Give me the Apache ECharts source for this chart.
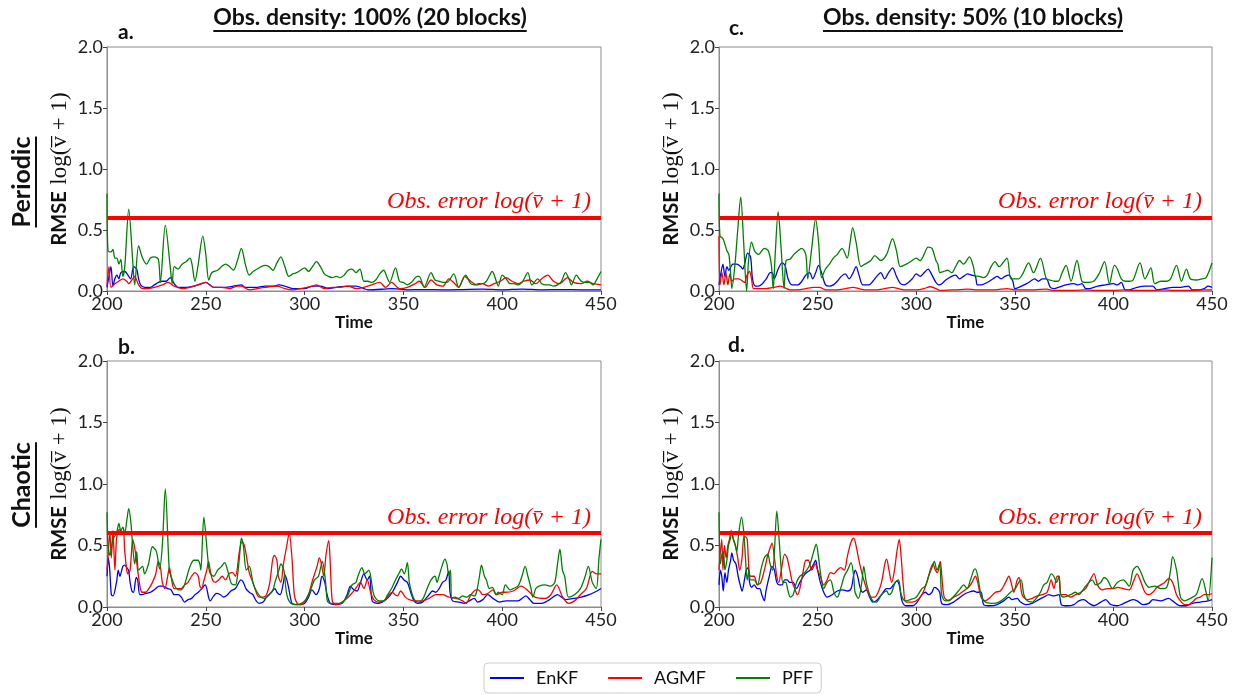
<!DOCTYPE html>
<html><head><meta charset="utf-8">
<script src="https://cdn.jsdelivr.net/npm/echarts@6/dist/echarts.min.js"></script>
<style>html,body{margin:0;padding:0;background:#fff}#c{width:1235px;height:695px}</style>
</head><body><div id="c"></div>
<script>
// ---- data (time, RMSE) ----
const seriesNames = ['EnKF','AGMF','PFF'];
const xTicks = [200,250,300,350,400,450];
const yTicks = [0.0,0.5,1.0,1.5,2.0];
const obsError = 0.6;
const colTitles = ['Obs. density: 100% (20 blocks)','Obs. density: 50% (10 blocks)'];
const rowTitles = ['Periodic','Chaotic'];
const panelLetters = ['a.','b.','c.','d.'];

const aEnKF = [[200,0.03],[201,0.12],[202,0.2],[203,0.04],[204,0.1],[205,0.13],[206,0.1],[207,0.15],[209,0.16],[211,0.12],[212,0.1],[213.5,0.2],[215,0.18],[216,0.1],[217,0.05],[219,0.03],[222,0.03],[224,0.05],[226,0.07],[228,0.08],[230,0.08],[232,0.11],[234,0.06],[236,0.03],[240,0.03],[244,0.04],[246,0.05],[248,0.06],[250,0.07],[252,0.05],[254,0.03],[260,0.03],[264,0.04],[268,0.05],[270,0.03],[276,0.03],[280,0.04],[284,0.04],[287,0.05],[290,0.04],[294,0.02],[300,0.02],[304,0.04],[308,0.04],[312,0.02],[316,0.03],[322,0.04],[326,0.04],[330,0.02],[332,0.01],[340,0.015],[344,0.02],[348,0.015],[352,0.01],[360,0.012],[370,0.01],[380,0.012],[390,0.015],[400,0.01],[410,0.015],[420,0.01],[430,0.012],[440,0.01],[450,0.01]];
const aAGMF = [[200,0.04],[201,0.2],[202,0.03],[204,0.06],[206,0.08],[208,0.1],[210,0.08],[211,0.06],[213,0.1],[214,0.12],[216,0.05],[218,0.02],[220,0.02],[224,0.03],[228,0.05],[231,0.07],[234,0.04],[238,0.02],[242,0.03],[246,0.05],[250,0.07],[254,0.03],[258,0.03],[262,0.02],[266,0.04],[268,0.04],[272,0.01],[276,0.02],[280,0.03],[286,0.04],[290,0.02],[294,0.01],[298,0.02],[304,0.04],[306,0.05],[310,0.02],[314,0.03],[318,0.03],[322,0.04],[326,0.02],[330,0.03],[334,0.05],[338,0.07],[341,0.03],[344,0.07],[348,0.02],[352,0.03],[356,0.06],[358,0.08],[361,0.03],[364,0.09],[367,0.05],[370,0.04],[373,0.1],[376,0.06],[378,0.03],[381,0.12],[384,0.08],[387,0.05],[390,0.06],[393,0.04],[396,0.06],[399,0.08],[402,0.11],[405,0.08],[408,0.06],[411,0.08],[414,0.09],[417,0.06],[420,0.1],[423,0.13],[426,0.08],[429,0.06],[433,0.11],[436,0.07],[440,0.06],[443,0.08],[446,0.06],[450,0.05]];
const aPFF = [[200,0.8],[200.5,0.33],[202,0.32],[203,0.34],[204,0.27],[205,0.27],[206,0.22],[207,0.26],[208,0.12],[209,0.2],[211,0.67],[213,0.25],[214,0.05],[216,0.37],[218,0.27],[220,0.22],[222,0.27],[224,0.28],[226,0.26],[227,0.07],[229.5,0.54],[232,0.2],[233,0.06],[234,0.2],[236,0.18],[238,0.22],[240,0.24],[242,0.27],[243,0.22],[244.5,0.08],[246,0.2],[248.5,0.45],[250,0.3],[251.5,0.09],[253,0.15],[256,0.17],[258,0.2],[260,0.22],[262,0.2],[264,0.17],[266,0.25],[268,0.35],[270,0.22],[272,0.13],[274,0.16],[276,0.18],[278,0.2],[280,0.21],[282,0.2],[284,0.17],[286,0.23],[288,0.28],[290,0.2],[292,0.12],[294,0.14],[296,0.15],[298,0.17],[300,0.19],[302,0.16],[304,0.2],[306,0.24],[308,0.2],[310,0.14],[312,0.12],[314,0.11],[316,0.12],[318,0.11],[320,0.13],[322,0.17],[324,0.18],[326,0.15],[328,0.18],[330,0.08],[332,0.08],[334,0.07],[336,0.09],[338,0.14],[340,0.17],[342,0.1],[343,0.07],[346,0.19],[348,0.08],[350,0.07],[352,0.05],[354,0.07],[357,0.12],[358,0.12],[360.5,0.03],[364,0.15],[366,0.09],[368,0.08],[370,0.07],[372,0.07],[375.5,0.14],[378,0.03],[381.5,0.13],[384,0.06],[386,0.05],[388,0.06],[390,0.06],[392,0.08],[395,0.16],[397,0.08],[398,0.04],[400,0.13],[402,0.1],[404,0.06],[406,0.06],[408,0.05],[410,0.07],[413,0.15],[415,0.05],[418,0.1],[420,0.06],[422,0.05],[424,0.05],[426,0.04],[428,0.05],[430,0.08],[432,0.15],[434,0.09],[435,0.05],[437.5,0.13],[440,0.08],[442,0.07],[444,0.07],[446,0.05],[448,0.1],[450,0.16]];

const bEnKF = [[200,0.25],[200.7,0.4],[201.4,0.3],[202.2,0.1],[203,0.09],[204.8,0.2],[205.7,0.3],[206.5,0.25],[208,0.33],[209,0.34],[210,0.32],[210.9,0.3],[211.7,0.2],[212.6,0.13],[213.4,0.12],[214.8,0.24],[215.5,0.22],[216.6,0.1],[217.8,0.1],[219.5,0.11],[222,0.12],[224.7,0.15],[226.4,0.17],[228,0.17],[230.7,0.15],[232.4,0.14],[234,0.1],[236,0.1],[237.6,0.08],[239.3,0.04],[241,0.06],[242.8,0.07],[244.5,0.1],[246.2,0.12],[248,0.15],[249.7,0.18],[250.5,0.15],[251.4,0.08],[252.2,0.05],[254,0.09],[255.5,0.11],[257.4,0.1],[259,0.08],[261,0.1],[262.7,0.13],[265,0.15],[267.8,0.22],[269,0.2],[270.3,0.15],[272,0.12],[273.8,0.1],[275.5,0.05],[277,0.03],[279,0.04],[280.7,0.08],[283.3,0.12],[285,0.15],[286,0.12],[287.6,0.1],[289.3,0.2],[290,0.26],[291,0.22],[292,0.15],[293.6,0.03],[295.3,0.02],[298,0.02],[300,0.03],[302,0.08],[303.7,0.14],[305.8,0.1],[307.5,0.15],[308.8,0.25],[310.2,0.2],[311.4,0.1],[313,0.03],[315.6,0.02],[319,0.03],[321.5,0.1],[323.2,0.17],[324.9,0.14],[326.6,0.13],[328.3,0.2],[330,0.27],[331.7,0.22],[332.9,0.25],[334.2,0.05],[336.8,0.03],[339.3,0.04],[341.9,0.07],[344.4,0.12],[347,0.2],[348.6,0.25],[350.3,0.22],[352,0.2],[353.7,0.12],[355.4,0.05],[357.1,0.03],[359.7,0.04],[361.4,0.07],[363,0.1],[364.7,0.13],[366.4,0.12],[368.1,0.15],[369.8,0.2],[371.5,0.22],[372.9,0.29],[373.6,0.12],[374.9,0.05],[378.3,0.04],[380.8,0.03],[383.4,0.05],[385.9,0.07],[387.6,0.04],[390.2,0.06],[392.7,0.1],[395.3,0.07],[398.6,0.04],[402,0.05],[404,0.05],[408,0.05],[412,0.09],[414,0.06],[416,0.03],[420,0.03],[424,0.06],[428,0.1],[430,0.08],[432,0.06],[436,0.07],[440,0.08],[444,0.1],[448,0.13],[450,0.15]];
const bAGMF = [[200,0.3],[200.7,0.45],[201.4,0.61],[202.2,0.4],[203,0.62],[204,0.3],[204.8,0.55],[205.7,0.62],[206.5,0.63],[207.4,0.6],[208.3,0.62],[209,0.45],[210,0.3],[210.5,0.27],[211.7,0.3],[213,0.55],[213.8,0.5],[214.8,0.4],[215.5,0.3],[216.9,0.15],[217.8,0.12],[219.5,0.12],[221.2,0.15],[223,0.2],[224.7,0.27],[225.9,0.37],[227,0.33],[228,0.2],[229.3,0.15],[230.7,0.25],[231.6,0.32],[232.4,0.25],[234,0.15],[236,0.15],[237.6,0.15],[239.3,0.18],[241,0.2],[242.8,0.25],[244.5,0.28],[246.2,0.25],[247,0.17],[248,0.15],[248.8,0.2],[250.5,0.3],[251.4,0.37],[252.2,0.3],[253.4,0.22],[254.8,0.2],[256.5,0.22],[258.3,0.25],[260,0.22],[261.7,0.27],[263.5,0.28],[265,0.25],[267,0.45],[268.3,0.53],[269.5,0.5],[270.7,0.4],[272,0.28],[273.8,0.2],[275.5,0.12],[277,0.08],[279,0.08],[280.7,0.1],[282.4,0.2],[283.8,0.38],[284.7,0.42],[286,0.38],[286.7,0.25],[288,0.2],[289.3,0.35],[291,0.5],[292.2,0.6],[293.6,0.4],[294.8,0.1],[296.2,0.03],[298,0.02],[300,0.04],[302,0.1],[303.7,0.2],[306.3,0.33],[307.5,0.4],[308.5,0.35],[309.7,0.25],[310.8,0.42],[312.2,0.54],[313,0.35],[314,0.05],[315.6,0.02],[318,0.03],[320.7,0.06],[323.2,0.1],[325.8,0.15],[328.3,0.2],[330,0.15],[331.7,0.22],[333.4,0.12],[335,0.06],[337.6,0.04],[340.2,0.05],[342.7,0.1],[344.4,0.12],[345.8,0.1],[347,0.09],[348.6,0.13],[351,0.08],[352.9,0.06],[356.3,0.05],[359.7,0.05],[363,0.07],[366.4,0.1],[369.8,0.1],[373.2,0.08],[376.6,0.07],[380,0.05],[381.7,0.03],[384.2,0.1],[386.8,0.14],[388,0.14],[390.2,0.1],[392.7,0.11],[395.3,0.14],[397,0.1],[400.3,0.12],[401.6,0.12],[405.6,0.13],[409.6,0.17],[413.2,0.13],[416.6,0.08],[421.6,0.07],[424.6,0.1],[427.6,0.18],[430.6,0.08],[433.6,0.03],[436.6,0.05],[439.6,0.1],[442.6,0.15],[445.6,0.29],[447.6,0.27],[450,0.27]];
const bPFF = [[200,0.77],[200.5,0.5],[201.5,0.42],[203,0.55],[204.8,0.6],[206,0.68],[207,0.62],[208,0.65],[209,0.6],[210,0.7],[211,0.8],[212,0.7],[213,0.5],[214,0.35],[215,0.45],[216,0.3],[218,0.33],[219,0.27],[221,0.35],[223,0.49],[225,0.45],[226.6,0.31],[228,0.5],[229.5,0.96],[231.5,0.3],[232.4,0.25],[234,0.18],[236,0.14],[237.5,0.14],[239,0.17],[240.5,0.25],[242,0.33],[244,0.38],[246,0.38],[247,0.35],[247.5,0.3],[249,0.73],[251,0.4],[252,0.28],[254,0.25],[256,0.3],[258,0.33],[259.5,0.36],[261,0.3],[263,0.19],[265,0.18],[266,0.25],[267,0.4],[268,0.56],[269,0.5],[270.5,0.3],[272,0.33],[274,0.19],[276,0.12],[278,0.08],[280,0.07],[282,0.1],[284,0.14],[285,0.2],[287,0.3],[288,0.35],[289.5,0.3],[291,0.1],[293,0.03],[296,0.02],[300,0.05],[303,0.14],[305,0.22],[307,0.25],[309,0.37],[310.5,0.22],[311.5,0.05],[313,0.03],[318,0.03],[320,0.05],[322,0.1],[324,0.18],[326,0.2],[327,0.25],[329,0.32],[330.5,0.27],[332.5,0.3],[335,0.1],[337.6,0.05],[340,0.05],[342,0.1],[344,0.15],[346,0.22],[348,0.28],[349,0.31],[350.5,0.27],[352,0.36],[353,0.2],[354.5,0.1],[356,0.05],[358,0.04],[360,0.07],[362,0.15],[364,0.22],[366,0.25],[367,0.2],[368,0.25],[369.5,0.33],[371,0.39],[372,0.35],[373,0.26],[373.8,0.3],[374.5,0.07],[376,0.08],[378,0.07],[380,0.09],[382,0.08],[384,0.1],[386,0.09],[387,0.12],[388.5,0.25],[389.5,0.34],[391,0.25],[392,0.22],[393.5,0.15],[395,0.16],[397,0.1],[398,0.12],[400,0.1],[401.6,0.18],[404,0.14],[405.6,0.15],[408,0.17],[410,0.25],[411.6,0.33],[413,0.25],[414.6,0.15],[415.5,0.08],[417,0.15],[418.6,0.17],[421.6,0.18],[424.6,0.17],[426.6,0.2],[428,0.35],[429.2,0.47],[430.5,0.3],[431.6,0.25],[433.6,0.08],[436.6,0.1],[439.6,0.15],[442,0.25],[443.6,0.33],[445.6,0.2],[447.6,0.15],[449,0.4],[450,0.55]];

const cEnKF = [[200,0.05],[201,0.15],[202,0.22],[203,0.12],[204,0.2],[205,0.17],[207,0.22],[209,0.22],[211,0.2],[212,0.18],[213,0.22],[214.5,0.31],[216,0.28],[217,0.1],[218.5,0.04],[220,0.04],[222,0.06],[224,0.1],[226,0.15],[227,0.15],[228,0.1],[230,0.18],[232,0.23],[233.5,0.21],[235,0.1],[237,0.05],[240,0.05],[242,0.08],[244,0.13],[246,0.15],[247.5,0.1],[249,0.15],[250.5,0.21],[252,0.15],[254,0.05],[256,0.04],[258,0.05],[260,0.08],[262,0.12],[264,0.14],[266,0.1],[268,0.15],[269.5,0.2],[271,0.13],[273,0.05],[276,0.05],[278,0.08],[280,0.12],[282,0.15],[284,0.1],[286,0.15],[288,0.19],[290,0.12],[292,0.06],[294,0.05],[296,0.07],[298,0.1],[300,0.14],[302,0.12],[304,0.15],[306,0.18],[308,0.13],[310,0.07],[311.5,0.05],[313,0.06],[315,0.09],[318,0.12],[320,0.13],[322,0.1],[324,0.12],[326,0.14],[328,0.13],[330,0.12],[331,0.05],[333,0.05],[336,0.07],[339,0.1],[341,0.12],[343,0.1],[345,0.12],[347,0.13],[349,0.08],[350,0.02],[352,0.03],[356,0.06],[358,0.08],[360,0.1],[362,0.08],[364,0.1],[366,0.1],[368,0.03],[370,0.02],[372,0.03],[376,0.05],[380,0.06],[382,0.05],[384,0.06],[386,0.02],[388,0.02],[392,0.04],[396,0.05],[400,0.06],[402,0.05],[404,0.07],[406,0.01],[408,0.01],[412,0.03],[416,0.04],[420,0.04],[422,0.01],[426,0.02],[430,0.03],[434,0.03],[438,0.04],[440,0.01],[443,0.01],[446,0.02],[448,0.04],[450,0.03]];
const cAGMF = [[200,0.45],[200.5,0.05],[201.5,0.15],[202.5,0.05],[203.5,0.15],[204.5,0.05],[205.5,0.14],[206.5,0.08],[208,0.1],[210,0.1],[212,0.08],[213,0.07],[214,0.12],[215.5,0.16],[216.5,0.1],[217.5,0.02],[220,0.02],[224,0.02],[228,0.03],[231,0.04],[233,0.03],[236,0.01],[240,0.01],[244,0.02],[248,0.03],[251,0.03],[254,0.01],[260,0.01],[264,0.02],[268,0.03],[271,0.02],[274,0.01],[280,0.01],[284,0.02],[288,0.03],[291,0.02],[294,0.01],[300,0.01],[304,0.02],[307,0.035],[310,0.02],[312,0.005],[320,0.01],[326,0.015],[330,0.01],[340,0.01],[346,0.02],[350,0.01],[360,0.01],[366,0.015],[370,0.005],[380,0.005],[386,0.01],[390,0.005],[400,0.005],[406,0.01],[410,0.005],[420,0.005],[426,0.01],[430,0.005],[440,0.005],[446,0.01],[450,0.01]];
const cPFF = [[200,0.8],[200.5,0.45],[202,0.43],[204,0.33],[205,0.3],[206,0.12],[206.5,0.02],[208,0.2],[209.5,0.5],[211,0.77],[212.5,0.4],[214,0.0],[215,0.25],[216.5,0.4],[218,0.33],[219,0.31],[220,0.3],[223,0.35],[225,0.33],[226.5,0.22],[227.5,0.02],[228.5,0.3],[230,0.65],[231.5,0.35],[233,0.02],[234,0.25],[236,0.26],[238,0.3],[240,0.33],[242,0.35],[244,0.3],[245,0.1],[247,0.35],[249,0.59],[250.5,0.4],[252,0.11],[254,0.18],[256,0.22],[258,0.27],[260,0.3],[262.4,0.35],[265,0.27],[266.5,0.4],[267.8,0.52],[269.5,0.4],[272,0.2],[274,0.22],[277,0.25],[279,0.29],[282,0.25],[285,0.3],[288,0.43],[290,0.33],[292,0.2],[295,0.22],[298,0.25],[300,0.27],[302,0.25],[304,0.3],[306,0.36],[308,0.35],[310,0.25],[311,0.22],[312,0.15],[314,0.16],[316,0.17],[318,0.15],[320,0.2],[322,0.25],[324,0.22],[327,0.28],[329,0.2],[330,0.125],[332,0.12],[334,0.11],[336,0.13],[338,0.2],[340,0.24],[342,0.2],[346,0.27],[348,0.1],[350,0.1],[352,0.1],[354,0.14],[357,0.23],[359.5,0.15],[363,0.27],[366,0.1],[368,0.09],[370,0.08],[372,0.08],[374,0.15],[376,0.21],[378.5,0.08],[381.5,0.25],[384,0.08],[386,0.07],[390,0.08],[393,0.15],[395.5,0.24],[398,0.06],[400.5,0.21],[402,0.18],[404,0.1],[406,0.08],[408,0.08],[410,0.09],[413.5,0.23],[416,0.1],[419,0.19],[421,0.06],[424,0.08],[427,0.08],[429,0.1],[432,0.21],[434.5,0.08],[437,0.18],[439,0.1],[442,0.09],[445,0.1],[447,0.11],[450,0.23]];

const dEnKF = [[200,0.18],[200.7,0.3],[201.4,0.25],[202.2,0.13],[203,0.28],[204,0.2],[204.8,0.3],[205.9,0.38],[206.5,0.44],[207.4,0.38],[208.6,0.35],[209.7,0.25],[210.9,0.17],[211.7,0.13],[212.9,0.22],[213.8,0.3],[214.8,0.32],[215.5,0.2],[216.6,0.16],[217.8,0.18],[219.5,0.15],[220.7,0.15],[221.7,0.1],[223,0.05],[223.8,0.13],[225.5,0.25],[226.9,0.33],[228.1,0.3],[229.3,0.2],[230.7,0.18],[232,0.18],[233.3,0.22],[234.5,0.22],[235.9,0.2],[237.6,0.2],[239.3,0.15],[241,0.2],[242.8,0.25],[244.5,0.28],[246.2,0.3],[248,0.35],[249,0.38],[250,0.3],[251.4,0.2],[253.1,0.12],[254.8,0.08],[257.4,0.1],[260,0.13],[262.6,0.14],[265.2,0.13],[267,0.15],[268.3,0.26],[269.1,0.3],[270.3,0.25],[271.7,0.15],[272.9,0.12],[274.7,0.14],[276.4,0.08],[278,0.04],[279.8,0.05],[282.4,0.1],[285,0.15],[286.7,0.15],[288.4,0.18],[290.2,0.21],[291.4,0.18],[292.8,0.05],[294.8,0.01],[298,0.01],[300,0.03],[302.9,0.1],[304.6,0.12],[306.3,0.1],[308,0.12],[309.2,0.16],[310.5,0.15],[311.9,0.12],[312.9,0.03],[315.6,0.02],[319,0.04],[321.5,0.07],[324,0.1],[326.6,0.12],[329.2,0.13],[330.8,0.12],[332.9,0.12],[334.2,0.02],[337.6,0.01],[341,0.02],[344.4,0.05],[347,0.08],[348.6,0.06],[351.2,0.07],[352.9,0.04],[355.4,0.02],[358.8,0.03],[362.2,0.06],[364.7,0.08],[367.3,0.1],[369.8,0.09],[372.4,0.1],[373.6,0.02],[376.6,0.01],[380,0.02],[382.5,0.05],[385,0.06],[387.6,0.03],[390.2,0.01],[393.6,0.04],[396.1,0.06],[398.6,0.02],[402,0.01],[404,0.02],[408,0.05],[410,0.06],[412,0.05],[415,0.02],[418,0.03],[420,0.06],[424,0.05],[428,0.07],[430,0.05],[434,0.01],[437,0.01],[440,0.03],[444,0.04],[448,0.05],[450,0.06]];
const dAGMF = [[200,0.3],[200.7,0.45],[201.4,0.55],[202,0.3],[202.8,0.5],[203.6,0.4],[204.5,0.5],[205.3,0.55],[206.2,0.62],[207.2,0.55],[208.3,0.5],[209.5,0.4],[210.5,0.3],[211.7,0.4],[212.6,0.57],[213.4,0.57],[214.3,0.55],[215.2,0.3],[216,0.25],[217.8,0.25],[219.5,0.18],[221.2,0.2],[223,0.3],[224.7,0.42],[225.9,0.48],[226.9,0.52],[228.1,0.4],[229.3,0.25],[230.3,0.2],[231.6,0.3],[233.3,0.43],[234.5,0.4],[235.9,0.3],[237.2,0.2],[238.4,0.15],[239.7,0.1],[241,0.15],[242.8,0.3],[244.1,0.38],[245.3,0.38],[247,0.3],[248.8,0.35],[250,0.3],[251.4,0.25],[253.1,0.18],[254.8,0.22],[256.5,0.28],[258.3,0.27],[260,0.3],[261.7,0.32],[263.5,0.3],[265.2,0.42],[267,0.53],[268.3,0.56],[269.5,0.5],[270.7,0.4],[272.4,0.28],[273.8,0.2],[275.5,0.12],[277.2,0.08],[279,0.08],[280.7,0.12],[282.4,0.2],[284.1,0.35],[285,0.39],[286.2,0.3],[287.6,0.2],[289,0.3],[290.2,0.45],[291.4,0.55],[292.4,0.4],[293.6,0.15],[294.8,0.04],[298,0.04],[300,0.05],[302.9,0.1],[305.4,0.2],[307.1,0.3],[308.5,0.35],[309.7,0.3],[310.8,0.28],[312.2,0.37],[313,0.25],[314.2,0.08],[316.4,0.05],[319,0.08],[321.5,0.1],[324,0.13],[326.6,0.16],[328.3,0.2],[330,0.25],[331.2,0.2],[332.9,0.08],[335,0.05],[337.6,0.08],[340.2,0.12],[342.7,0.13],[345.3,0.2],[347,0.25],[348.1,0.2],[349.5,0.12],[351.2,0.22],[352.2,0.24],[353.7,0.1],[356.3,0.06],[358.8,0.07],[361.4,0.09],[363.9,0.1],[366.4,0.12],[368.5,0.22],[369.8,0.15],[371.5,0.25],[372.4,0.25],[373.6,0.1],[375.8,0.1],[378.3,0.08],[380.8,0.1],[383.4,0.12],[385.9,0.15],[387.6,0.2],[390.2,0.27],[391.9,0.18],[394.4,0.14],[397,0.15],[400.3,0.15],[402,0.16],[405,0.15],[408,0.14],[410,0.2],[412,0.27],[414,0.2],[416,0.12],[418,0.1],[420,0.12],[422,0.16],[424,0.18],[426,0.2],[428,0.23],[430,0.2],[432,0.1],[434,0.05],[436,0.02],[438,0.02],[440,0.04],[442,0.07],[444,0.08],[446,0.1],[448,0.1],[450,0.11]];
const dPFF = [[200,0.77],[200.7,0.35],[201.4,0.42],[202.2,0.45],[203,0.3],[204,0.38],[204.8,0.5],[205.7,0.55],[206.5,0.6],[207.4,0.55],[208.3,0.5],[209,0.45],[210,0.6],[211.4,0.73],[212.6,0.6],[213.4,0.4],[214.3,0.22],[215.2,0.3],[216,0.22],[217.8,0.22],[219.5,0.18],[221.2,0.3],[223,0.4],[224.7,0.43],[225.9,0.35],[227.2,0.3],[228.1,0.45],[229.3,0.78],[230.7,0.5],[231.6,0.3],[232.4,0.2],[233.8,0.2],[235,0.13],[236.2,0.08],[237.6,0.1],[239.3,0.2],[241,0.25],[242.8,0.27],[244.5,0.3],[246.2,0.35],[248,0.45],[249.3,0.51],[250.5,0.4],[251.7,0.25],[253.1,0.15],[254.8,0.2],[256.5,0.22],[258.3,0.12],[260,0.08],[261.7,0.15],[263.5,0.25],[265.2,0.3],[267,0.36],[268.3,0.25],[269,0.12],[270.7,0.07],[272.4,0.2],[273.4,0.33],[274.7,0.2],[276.4,0.1],[278,0.05],[279.8,0.04],[282.4,0.1],[285,0.13],[286.2,0.1],[287.6,0.12],[289.3,0.2],[291,0.22],[292.4,0.1],[294.5,0.05],[297,0.06],[300,0.08],[302.9,0.15],[304.6,0.17],[306.3,0.25],[308,0.32],[309.2,0.37],[310.5,0.3],[311.9,0.35],[312.9,0.1],[314.7,0.05],[317.3,0.06],[319.8,0.1],[322.4,0.15],[324,0.18],[325.8,0.15],[327.5,0.22],[329.2,0.3],[330,0.31],[331.2,0.25],[332.9,0.1],[335,0.04],[338.5,0.03],[341.9,0.04],[345.3,0.08],[347.8,0.12],[350.3,0.15],[352,0.2],[353.2,0.22],[354.6,0.1],[356.3,0.05],[358.8,0.04],[361.4,0.08],[363,0.12],[364.7,0.18],[366.4,0.2],[368.5,0.27],[369.8,0.25],[371.2,0.2],[372.4,0.25],[373.2,0.1],[374.9,0.08],[378.3,0.1],[380.8,0.12],[382.5,0.1],[385,0.15],[387.6,0.2],[389.3,0.22],[391,0.18],[393.6,0.2],[395.3,0.24],[397,0.22],[399.5,0.15],[402,0.2],[405,0.22],[408,0.17],[410,0.3],[412,0.33],[414,0.28],[416,0.2],[418,0.16],[421,0.17],[424,0.15],[427,0.16],[429,0.3],[430,0.41],[432,0.3],[434,0.08],[436,0.05],[439,0.07],[442,0.1],[445,0.23],[447,0.12],[448,0.05],[450,0.4]];

// ---- layout / style ----
const colors = ['#0000ff','#ff0000','#008000'];
const panelData = [[aEnKF,aAGMF,aPFF],[bEnKF,bAGMF,bPFF],[cEnKF,cAGMF,cPFF],[dEnKF,dAGMF,dPFF]];
const gridBoxes = [
  {left:107, top:47, width:494, height:244},
  {left:107, top:361, width:494, height:246},
  {left:719, top:47, width:493, height:244},
  {left:719, top:361, width:493, height:246}
];
const SANS = 'Lato';
const obsLabel = 'Obs. error log(v\u0304 + 1)';
const yName = '{r|RMSE}  {m|log(v\u0305 + 1)}';

const chart = echarts.init(document.getElementById('c'), null, {renderer:'canvas'});
const grid = [], xAxis = [], yAxis = [], series = [];
gridBoxes.forEach((g, i) => {
  grid.push(Object.assign({show:true, borderColor:'#8c8c8c', borderWidth:1, containLabel:false}, g));
  xAxis.push({type:'value', gridIndex:i, min:xTicks[0], max:xTicks[xTicks.length-1], interval:50,
    name:'Time', nameLocation:'middle', nameGap:22,
    nameTextStyle:{fontFamily:SANS, fontWeight:'bold', fontSize:17, color:'#111', verticalAlign:'top'},
    axisLine:{show:true, lineStyle:{color:'#8c8c8c', width:1}},
    axisTick:{show:true, inside:false, length:4, lineStyle:{color:'#444'}},
    axisLabel:{fontFamily:SANS, fontSize:18, color:'#222', margin:4},
    splitLine:{show:false}});
  yAxis.push({type:'value', gridIndex:i, min:yTicks[0], max:yTicks[yTicks.length-1], interval:0.5,
    name:yName, nameLocation:'middle', nameGap:36,
    nameTextStyle:{rich:{r:{fontFamily:SANS, fontWeight:'bold', fontSize:20, color:'#111'},
                         m:{fontFamily:'Liberation Serif', fontSize:23, color:'#111'}}},
    axisLine:{show:true, lineStyle:{color:'#8c8c8c', width:1}},
    axisTick:{show:true, inside:false, length:4, lineStyle:{color:'#444'}},
    axisLabel:{fontFamily:SANS, fontSize:18, color:'#222', margin:4, formatter:v=>v.toFixed(1)},
    splitLine:{show:false}});
  panelData[i].forEach((d, k) => {
    series.push({name:seriesNames[k], type:'line', xAxisIndex:i, yAxisIndex:i, data:d,
      showSymbol:false, symbol:'none', smooth:0.3, clip:true,
      lineStyle:{width:1.3, color:colors[k]}, itemStyle:{color:colors[k]}, z:2+k,
      markLine: k===2 ? {silent:true, symbol:'none', animation:false,
        data:[{yAxis:obsError}],
        lineStyle:{color:'#ff0000', width:4, type:'solid'},
        label:{show:true, position:'insideEndTop', formatter:obsLabel, distance:[10,4],
          color:'#ff0000', fontFamily:'Liberation Serif', fontStyle:'italic', fontSize:24}} : undefined});
  });
});

const titleX = [370, 973];
const rowY = [182, 485];
const letterPos = [[118,22],[118,337],[729,18],[728,335]];
const textW = (t, font) => (echarts.format && echarts.format.getTextRect) ? echarts.format.getTextRect(t, font).width : t.length * 10;

const graphic = [];
colTitles.forEach((t, i) => {
  graphic.push({type:'text', x:titleX[i], y:18, style:{text:t, font:'bold 23px Lato', fill:'#111', align:'center', verticalAlign:'middle'}, z:10});
  const w = textW(t, 'bold 23px Lato');
  graphic.push({type:'line', shape:{x1:titleX[i]-w/2, y1:31, x2:titleX[i]+w/2, y2:31}, style:{stroke:'#111', lineWidth:2}, z:10});
});
rowTitles.forEach((t, i) => {
  graphic.push({type:'text', x:22, y:rowY[i], rotation:Math.PI/2,
    style:{text:t, font:'bold 25px Lato', fill:'#111', align:'center', verticalAlign:'middle'}, z:10});
  const w = textW(t, 'bold 25px Lato');
  graphic.push({type:'line', shape:{x1:36, y1:rowY[i]-w/2, x2:36, y2:rowY[i]+w/2}, style:{stroke:'#111', lineWidth:2}, z:10});
});
panelLetters.forEach((t, i) => {
  graphic.push({type:'text', x:letterPos[i][0], y:letterPos[i][1], style:{text:t, font:'bold 21px Lato', fill:'#111'}, z:10});
});

chart.setOption({
  animation:false,
  backgroundColor:'#fff',
  grid, xAxis, yAxis, series, graphic,
  legend:{data:seriesNames, left:484, top:663, orient:'horizontal', itemGap:30, itemWidth:34, itemHeight:2,
    icon:'rect', padding:[6,8,6,6], borderColor:'#cccccc', borderWidth:1, borderRadius:4,
    backgroundColor:'#fff', textStyle:{fontFamily:SANS, fontSize:18, color:'#111', padding:[0,0,0,7]}}
});
</script>
</body></html>
